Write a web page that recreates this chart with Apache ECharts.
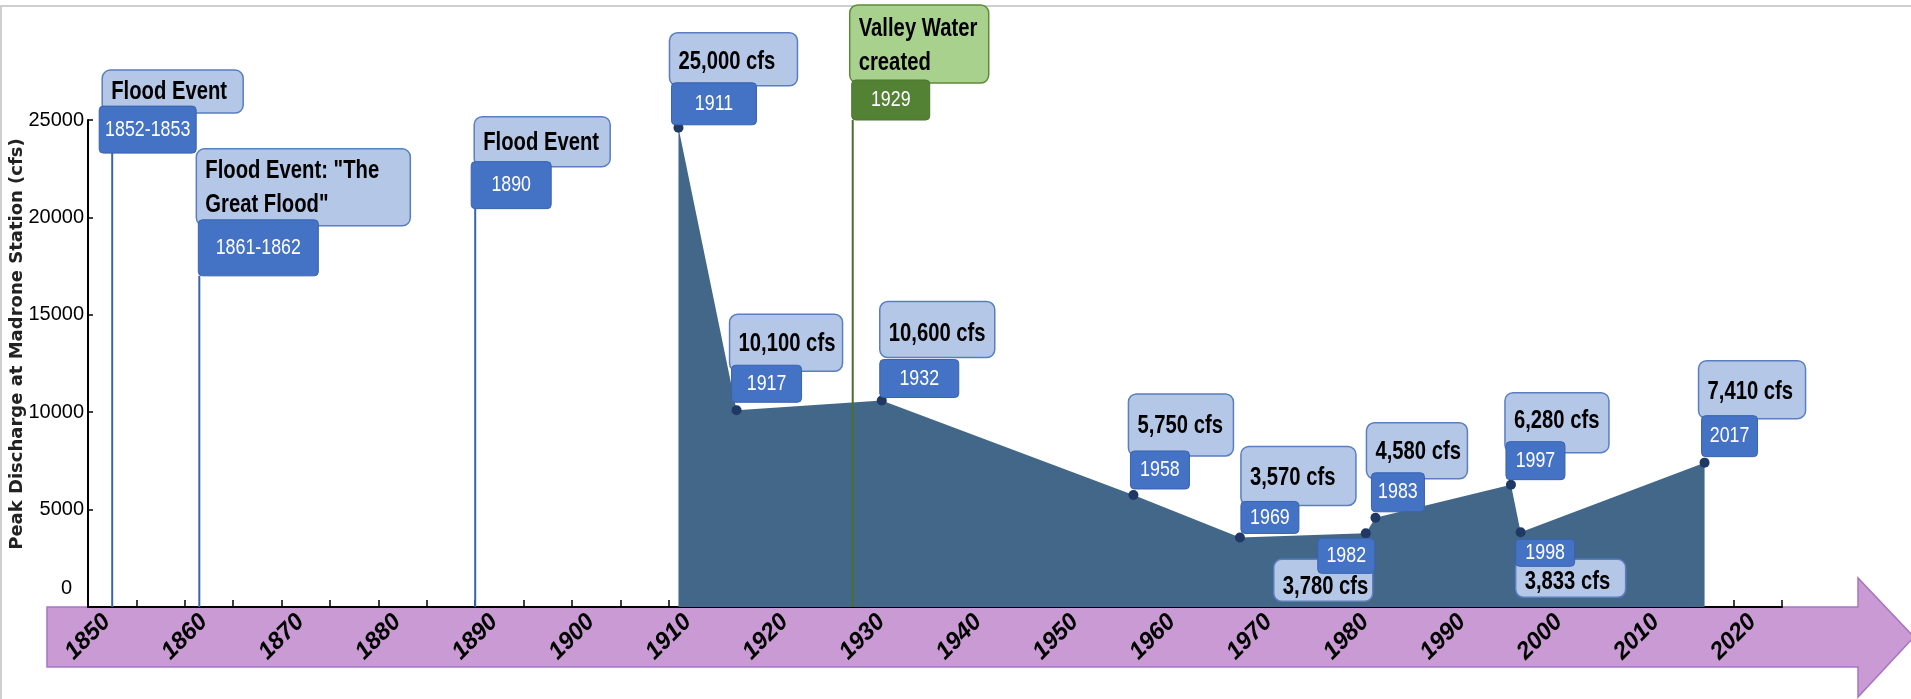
<!DOCTYPE html>
<html>
<head>
<meta charset="utf-8">
<title>Peak Discharge at Madrone Station</title>
<script src="https://cdn.jsdelivr.net/npm/echarts@6/dist/echarts.min.js"></script>
<style>
  html, body { margin: 0; padding: 0; background: #fff; }
  #main { width: 1911px; height: 699px; }
</style>
</head>
<body>
<div id="main"></div>
<script>
// 洪峰流量记录（年份 / cfs）
const peakYears = [1911, 1917, 1932, 1958, 1969, 1982, 1983, 1997, 1998, 2017];
const peakValues = [24600, 10100, 10600, 5750, 3570, 3780, 4580, 6280, 3833, 7410];
const peakLabels = ['25,000 cfs', '10,100 cfs', '10,600 cfs', '5,750 cfs', '3,570 cfs',
  '3,780 cfs', '4,580 cfs', '6,280 cfs', '3,833 cfs', '7,410 cfs'];

// 早期洪水事件（没有流量值，只画竖线）
const floodYears = [1852.5, 1861.5, 1890];
const floodLineTops = [23300, 17000, 20450];
const floodTitles = ['Flood Event', 'Flood Event: "The\nGreat Flood"', 'Flood Event'];
const floodPeriods = ['1852-1853', '1861-1862', '1890'];

// 机构成立
const milestoneYears = [1929];
const milestoneLineTops = [25000];
const milestoneTitles = ['Valley Water\ncreated'];
const milestoneTags = ['1929'];

// 轴
const xRange = [1850, 2025];
const yRange = [0, 25000];

// 标注框相对锚点的位置: [浅色框 x, y, w, h, 深色框 x, y, w, h]
const calloutBoxes = [
  [-10, -83, 141, 43, -13, -47, 97, 47],
  [-3, -127, 214, 77, -1, -56, 120, 56],
  [-1, -92, 136, 50, -4, -47, 80, 47],
  [-3, -115, 139, 78, -1, -40, 78, 40],
  [-9, -95, 128, 53, -7, -45, 85, 42],
  [-7, -96, 113, 57, -5, -45, 70, 37],
  [-2, -99, 115, 56, -2, -41, 79, 38],
  [-5, -101, 105, 62, -3, -44, 59, 38],
  [1, -91, 115, 59, 1, -36, 58, 32],
  [-92, 26, 99, 42, -48, 5, 57, 35],
  [-9, -95, 101, 56, -4, -45, 53, 39],
  [-6, -92, 104, 60, -5, -43, 59, 38],
  [-5, 27, 110, 38, -5, 7, 59, 27],
  [-6, -102, 107, 58, -3, -47, 56, 41]
];

const palettes = {
  blue: { light: '#B4C7E7', lightBorder: '#5A7EC0', dark: '#4472C4', darkBorder: '#3A63AD', line: '#3A64B0' },
  green: { light: '#A9D18E', lightBorder: '#5E8A3A', dark: '#548235', darkBorder: '#4A7430', line: '#4B6E2A' }
};

// 没有窄体字，用横向压缩模拟
const FONT = '"Liberation Sans", Arial, sans-serif';
const SQUEEZE = 0.81;

// 把所有标注拼成一个列表
const callouts = [];
floodYears.forEach((yr, i) => {
  callouts.push({ x: yr, y: floodLineTops[i], title: floodTitles[i], tag: floodPeriods[i], line: true, pal: palettes.blue });
});
milestoneYears.forEach((yr, i) => {
  callouts.push({ x: yr, y: milestoneLineTops[i], title: milestoneTitles[i], tag: milestoneTags[i], line: true, pal: palettes.green });
});
peakYears.forEach((yr, i) => {
  callouts.push({ x: yr, y: peakValues[i], title: peakLabels[i], tag: String(yr), line: false, pal: palettes.blue });
});

function renderCallout(params, api) {
  const c = callouts[params.dataIndex];
  const b = calloutBoxes[params.dataIndex];
  const p = api.coord([api.value(0), api.value(1)]);
  const base = api.coord([api.value(0), 0]);
  const [lx, ly, lw, lh, dx, dy, dw, dh] = b;
  const above = ly < dy;
  const textY = above ? p[1] + (ly + dy) / 2 + 4 : p[1] + (dy + dh + ly + lh) / 2;
  const children = [];
  if (c.line) {
    children.push({
      type: 'line',
      shape: { x1: p[0], y1: base[1], x2: p[0], y2: p[1] },
      style: { stroke: c.pal.line, lineWidth: 2 }
    });
  }
  children.push({
    type: 'rect',
    shape: { x: p[0] + lx, y: p[1] + ly, width: lw, height: lh, r: 8 },
    style: { fill: c.pal.light, stroke: c.pal.lightBorder, lineWidth: 1.5 }
  });
  children.push({
    type: 'text',
    x: p[0] + lx + 9,
    y: textY,
    scaleX: SQUEEZE,
    style: {
      text: c.title, fill: '#000', fontFamily: FONT, fontWeight: 'bold', fontSize: 25,
      lineHeight: 34, align: 'left', verticalAlign: 'middle'
    }
  });
  children.push({
    type: 'rect',
    shape: { x: p[0] + dx, y: p[1] + dy, width: dw, height: dh, r: 4 },
    style: { fill: c.pal.dark, stroke: c.pal.darkBorder, lineWidth: 1 }
  });
  children.push({
    type: 'text',
    x: p[0] + dx + dw / 2,
    y: p[1] + dy + dh / 2,
    scaleX: SQUEEZE,
    style: {
      text: c.tag, fill: '#fff', fontFamily: FONT, fontSize: 22,
      align: 'center', verticalAlign: 'middle'
    }
  });
  return { type: 'group', children: children };
}

const chart = echarts.init(document.getElementById('main'), null, { renderer: 'canvas' });

chart.setOption({
  animation: false,
  backgroundColor: '#fff',
  grid: { left: 88, right: 129, top: 120, bottom: 92, outerBoundsMode: 'none' },
  xAxis: {
    type: 'value',
    min: xRange[0],
    max: xRange[1],
    interval: 5,
    axisLine: { lineStyle: { color: '#000', width: 2 } },
    axisTick: { inside: true, length: 7, lineStyle: { color: '#000', width: 1.5 } },
    axisLabel: {
      formatter: v => (v % 10 === 0 && v < xRange[1] ? String(v) : ''),
      rotate: 45,
      margin: 30,
      align: 'center',
      verticalAlign: 'middle',
      fontFamily: FONT,
      fontStyle: 'italic',
      fontWeight: 'bold',
      fontSize: 24,
      color: '#000'
    },
    splitLine: { show: false }
  },
  yAxis: {
    type: 'value',
    min: yRange[0],
    max: yRange[1],
    interval: 5000,
    axisLine: { show: true, lineStyle: { color: '#000', width: 2 } },
    axisTick: { show: true, inside: true, length: 5, lineStyle: { color: '#000', width: 1.5 } },
    axisLabel: {
      margin: 4,
      fontFamily: FONT,
      fontSize: 20,
      color: '#000',
      formatter: v => (v === 0 ? '{zero|0}' : String(v)),
      rich: { zero: { fontFamily: FONT, fontSize: 20, color: '#000', padding: [0, 12, 38, 0] } }
    },
    splitLine: { show: false }
  },
  graphic: [
    {
      type: 'polyline',
      z: -2,
      shape: { points: [[1, 699], [1, 6], [1911, 6]] },
      style: { stroke: '#cfcfcf', lineWidth: 2, fill: null }
    },
    {
      type: 'polygon',
      z: -1,
      shape: { points: [[47, 607], [1858, 607], [1858, 578], [1914, 637], [1858, 697], [1858, 667], [47, 667]] },
      style: { fill: '#C99AD3', stroke: '#A874C4', lineWidth: 1.5 }
    },
    {
      type: 'text',
      x: 17,
      y: 344,
      rotation: Math.PI / 2,
      style: {
        text: 'Peak Discharge at Madrone Station (cfs)',
        fontFamily: '"DejaVu Sans", sans-serif',
        fontWeight: 'bold',
        fontSize: 18,
        fill: '#222',
        align: 'center',
        verticalAlign: 'middle'
      }
    }
  ],
  series: [
    {
      type: 'line',
      data: peakYears.map((yr, i) => [yr, peakValues[i]]),
      symbol: 'circle',
      symbolSize: 10,
      itemStyle: { color: '#1F3864' },
      lineStyle: { width: 0 },
      areaStyle: { color: '#426789', opacity: 1 },
      emphasis: { disabled: true },
      z: 2
    },
    {
      type: 'custom',
      data: callouts.map(c => [c.x, c.y]),
      renderItem: renderCallout,
      clip: false,
      z: 5
    }
  ]
});
</script>
</body>
</html>
